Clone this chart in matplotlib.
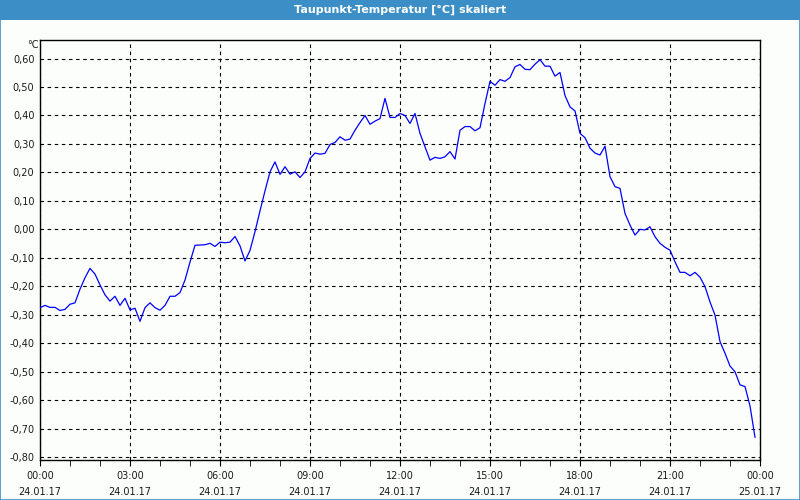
import numpy as np
import pandas as pd
import matplotlib
matplotlib.use("Agg")
import matplotlib.pyplot as plt
import matplotlib.dates as mdates
from matplotlib.patches import Rectangle
from matplotlib.ticker import FuncFormatter

title = "Taupunkt-Temperatur [°C] skaliert"
start = "2017-01-24 00:00"
step = "10min"

# Taupunkt in °C, one value every 10 minutes
temp = [
    -0.275, -0.267, -0.274, -0.274, -0.285, -0.281, -0.263, -0.258, -0.210, -0.170,
    -0.137, -0.157, -0.195, -0.230, -0.252, -0.235, -0.267, -0.242, -0.283, -0.277,
    -0.323, -0.275, -0.258, -0.275, -0.284, -0.267, -0.235, -0.235, -0.222, -0.178,
    -0.115, -0.056, -0.055, -0.054, -0.049, -0.060, -0.045, -0.047, -0.045, -0.025,
    -0.058, -0.111, -0.074, -0.008, 0.065, 0.135, 0.202, 0.237, 0.193, 0.220,
    0.194, 0.202, 0.182, 0.202, 0.249, 0.268, 0.264, 0.267, 0.298, 0.305,
    0.325, 0.313, 0.317, 0.348, 0.375, 0.400, 0.369, 0.380, 0.389, 0.460,
    0.393, 0.393, 0.407, 0.400, 0.372, 0.407, 0.337, 0.290, 0.243, 0.253,
    0.249, 0.255, 0.273, 0.247, 0.348, 0.361, 0.361, 0.346, 0.357, 0.442,
    0.520, 0.506, 0.526, 0.520, 0.533, 0.571, 0.579, 0.562, 0.561, 0.580,
    0.596, 0.573, 0.573, 0.538, 0.551, 0.470, 0.430, 0.416, 0.337, 0.322,
    0.285, 0.268, 0.261, 0.292, 0.185, 0.150, 0.144, 0.056, 0.015, -0.020,
    0.000, -0.002, 0.009, -0.026, -0.049, -0.063, -0.073, -0.114, -0.151, -0.151,
    -0.163, -0.151, -0.168, -0.201, -0.255, -0.301, -0.394, -0.435, -0.480, -0.500,
    -0.546, -0.552, -0.620, -0.730,
]
times = pd.date_range(start, periods=len(temp), freq=step)

y_ticks = [0.6, 0.5, 0.4, 0.3, 0.2, 0.1, 0.0, -0.1, -0.2, -0.3, -0.4, -0.5, -0.6, -0.7, -0.8]

fig = plt.figure(figsize=(8, 5), dpi=100, facecolor="#fcfefc")

# title bar and frame
fig.patches.append(Rectangle((0, 0.96), 1, 0.04, transform=fig.transFigure,
                             facecolor="#3c8fc6", edgecolor="none", zorder=0))
fig.patches.append(Rectangle((0.0006, 0.001), 0.9988, 0.998, transform=fig.transFigure,
                             facecolor="none", edgecolor="#3c8fc6", linewidth=1.2, zorder=0))
fig.text(0.5, 0.981, title, color="white", fontsize=8, fontweight="semibold",
         ha="center", va="center")

ax = fig.add_axes([0.05, 0.08, 0.90, 0.84])
ax.set_facecolor("#fcfefc")
ax.plot(times, temp, color="#0000ff", linewidth=0.9, zorder=3)

t0 = pd.Timestamp("2017-01-24 00:00")
t1 = pd.Timestamp("2017-01-25 00:00")
ax.set_xlim(t0, t1)
ax.set_ylim(-0.81, 0.665)

ax.set_yticks(y_ticks)
ax.yaxis.set_major_formatter(FuncFormatter(lambda v, p: f"{v:.2f}".replace(".", ",")))
ax.xaxis.set_major_locator(mdates.HourLocator(byhour=range(0, 24, 3)))
ax.xaxis.set_minor_locator(mdates.HourLocator())
ax.xaxis.set_major_formatter(mdates.DateFormatter("%H:%M\n%d.%m.%y"))

ax.grid(True, which="major", color="black", linestyle=(0, (3.2, 3.2)), linewidth=0.8)
for s in ax.spines.values():
    s.set_color("black")
    s.set_linewidth(1.0)

ax.tick_params(axis="y", length=0, pad=4, labelsize=7, labelcolor="#1a1a1a")
ax.tick_params(axis="x", which="major", length=4, pad=4, labelsize=7, labelcolor="#1a1a1a")
ax.tick_params(axis="x", which="minor", length=4)
for lab in ax.get_xticklabels():
    lab.set_linespacing(1.75)

fig.text(0.048, 0.91, "°C", fontsize=7, ha="right", va="center", color="#1a1a1a")

fig.savefig("out.png", dpi=100, facecolor=fig.get_facecolor())
